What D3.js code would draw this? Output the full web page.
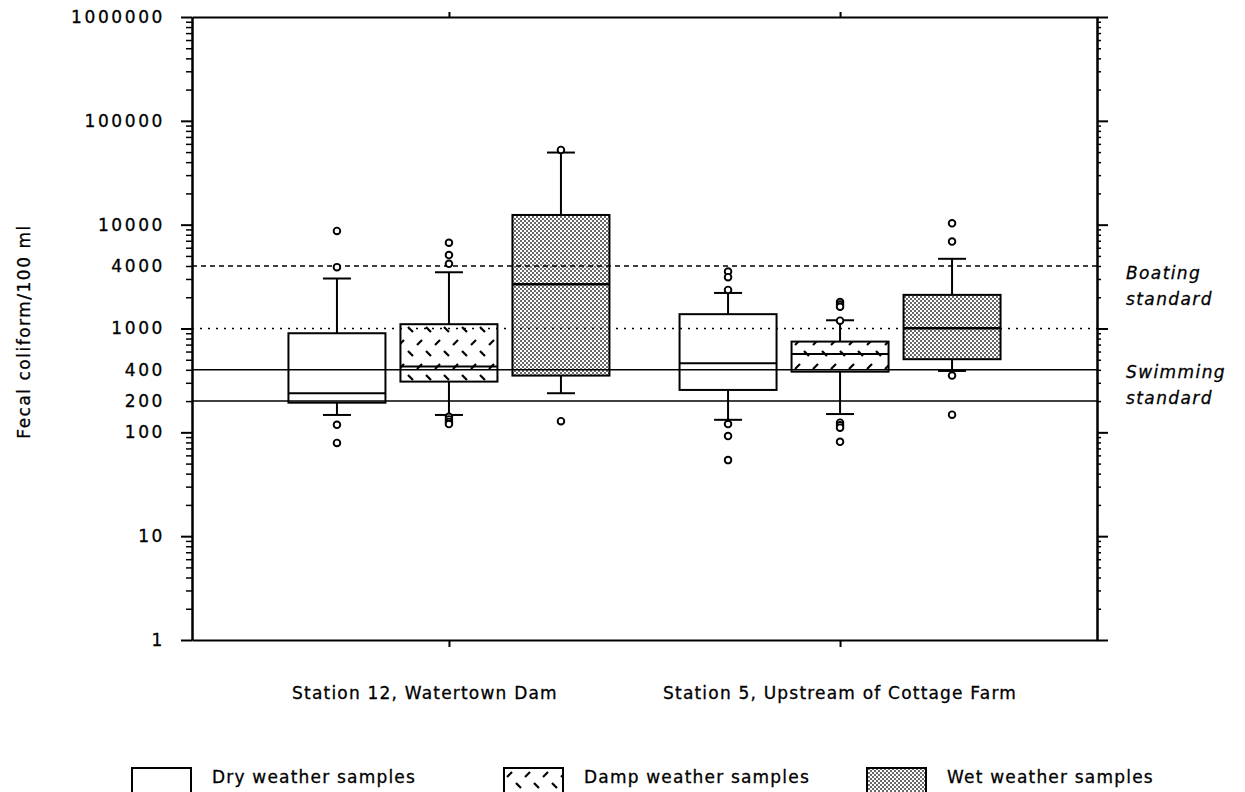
<!DOCTYPE html>
<html>
<head>
<meta charset="utf-8">
<script src="https://cdn.jsdelivr.net/npm/d3@7"></script>
<style>
body { margin: 0; background: #fff; }
text { font-family: "DejaVu Sans", "Liberation Sans", sans-serif; fill: #000; stroke: #000; stroke-width: 0.3px; }
</style>
</head>
<body>
<script>

// SVG dimensions
const outerWidth = 1245, outerHeight = 792;
const plotLeft = 192, plotRight = 1097, plotTop = 17, plotBottom = 640;

// Categories and box groups
const categories = ["Station 12, Watertown Dam", "Station 5, Upstream of Cottage Farm"];
const conditions = ["Dry", "Damp", "Wet"];
const legendLabels = ["Dry weather samples", "Damp weather samples", "Wet weather samples"];

// Box statistics, [station][condition]
const whiskerLow = [[147, 147, 238], [132, 150, 390]];
const quartile1  = [[193, 308, 352], [256, 384, 506]];
const medians    = [[238, 430, 2670], [463, 569, 1007]];
const quartile3  = [[900, 1100, 12400], [1374, 748, 2108]];
const whiskerHigh = [[3030, 3480, 49500], [2200, 1200, 4690]];
const outliers = [
    [[8700, 3900, 118, 79], [6700, 5100, 4200, 141, 133, 126, 120], [52500, 128]],
    [[3530, 3120, 2350, 120, 92, 54], [1800, 1700, 1620, 1190, 124, 117, 111, 81], [10300, 6870, 352, 148]]
];

// Axis tick labels and standards
const yTickLabels = [1, 10, 100, 200, 400, 1000, 4000, 10000, 100000, 1000000];
const yDecades = [1, 10, 100, 1000, 10000, 100000, 1000000];
const boatingLimits = [4000, 1000];
const swimmingLimits = [400, 200];
const standardLabels = [["Boating", "standard"], ["Swimming", "standard"]];
const yTitle = "Fecal coliform/100 ml";

// Create SVG
const svg = d3.select("body")
    .append("svg")
    .attr("width", outerWidth)
    .attr("height", outerHeight);

// Fill patterns
const defs = svg.append("defs");
const damp = defs.append("pattern")
    .attr("id", "damp")
    .attr("patternUnits", "userSpaceOnUse")
    .attr("width", 18).attr("height", 24);
damp.append("rect").attr("width", 18).attr("height", 24).attr("fill", "#fff");
damp.append("line").attr("x1", 3).attr("y1", 9).attr("x2", 8).attr("y2", 4)
    .attr("stroke", "#000").attr("stroke-width", 2.2);
damp.append("line").attr("x1", 12).attr("y1", 15).attr("x2", 17).attr("y2", 20)
    .attr("stroke", "#000").attr("stroke-width", 2.2);

const wet = defs.append("pattern")
    .attr("id", "wet")
    .attr("patternUnits", "userSpaceOnUse")
    .attr("width", 4).attr("height", 4);
wet.append("rect").attr("width", 4).attr("height", 4).attr("fill", "#fff");
wet.append("circle").attr("cx", 1).attr("cy", 1).attr("r", 0.9).attr("fill", "#222");
wet.append("circle").attr("cx", 3).attr("cy", 3).attr("r", 0.9).attr("fill", "#222");

const fills = { Dry: "#fff", Damp: "url(#damp)", Wet: "url(#wet)" };

// Scales
let y = d3.scaleLog()
    .domain([1, 1000000])
    .range([plotBottom, plotTop]);
let x = d3.scalePoint()
    .domain(categories)
    .range([plotLeft, plotRight])
    .padding(0.657);
let xo = d3.scalePoint()
    .domain(conditions)
    .range([-112, 112]);
const boxWidth = 97, capWidth = 28;

// Minor tick values
let minorTicks = [];
yDecades.slice(0, -1).forEach(d => {
    for (let k = 2; k <= 9; k++) minorTicks.push(k * d);
});

function styleAxis(g) {
    g.selectAll("path, line").attr("stroke", "#000").attr("stroke-width", 2);
    g.selectAll("text").remove();
}

// Left axis: minor, major, labels
svg.append("g")
    .attr("transform", `translate(${plotLeft},0)`)
    .call(d3.axisLeft(y).tickValues(minorTicks).tickSize(6).tickSizeOuter(0).tickFormat(""))
    .call(styleAxis)
    .selectAll("line").attr("stroke-width", 1.5);
svg.append("g")
    .attr("transform", `translate(${plotLeft},0)`)
    .call(d3.axisLeft(y).tickValues(yDecades).tickSize(11).tickSizeOuter(0).tickFormat(""))
    .call(styleAxis);
let yLabels = svg.append("g")
    .attr("transform", `translate(${plotLeft},0)`)
    .call(d3.axisLeft(y).tickValues(yTickLabels).tickSize(0).tickPadding(27).tickFormat(d3.format("d")));
yLabels.select(".domain").remove();
yLabels.selectAll("text")
    .attr("font-family", "DejaVu Sans")
    .attr("font-size", 17)
    .attr("letter-spacing", "2.6px")
    .attr("fill", "#000");

// Right axis
svg.append("g")
    .attr("transform", `translate(${plotRight},0)`)
    .call(d3.axisRight(y).tickValues(minorTicks).tickSize(4).tickSizeOuter(0).tickFormat(""))
    .call(styleAxis)
    .selectAll("line").attr("stroke-width", 1.5);
svg.append("g")
    .attr("transform", `translate(${plotRight},0)`)
    .call(d3.axisRight(y).tickValues(yDecades).tickSize(11).tickSizeOuter(0).tickFormat(""))
    .call(styleAxis);

// Top and bottom axes
svg.append("g")
    .attr("transform", `translate(0,${plotTop})`)
    .call(d3.axisTop(x).tickSize(5).tickSizeOuter(0).tickFormat(""))
    .call(styleAxis);
svg.append("g")
    .attr("transform", `translate(0,${plotBottom})`)
    .call(d3.axisBottom(x).tickSize(7).tickSizeOuter(0).tickFormat(""))
    .call(styleAxis);

// Category labels
svg.append("g").selectAll("text")
    .data(categories)
    .join("text")
    .attr("x", (d, i) => x(d) + (i === 0 ? -24 : 0))
    .attr("y", plotBottom + 59)
    .attr("text-anchor", "middle")
    .attr("font-size", 17)
    .attr("letter-spacing", "1.2px")
    .text(d => d);

// Y axis title
svg.append("text")
    .attr("transform", `translate(30,${(plotTop + plotBottom) / 2 + 3}) rotate(-90)`)
    .attr("text-anchor", "middle")
    .attr("font-size", 17)
    .attr("letter-spacing", "1.5px")
    .text(yTitle);

// Build boxes
let boxes = [];
categories.forEach((c, i) => {
    conditions.forEach((k, j) => {
        boxes.push({
            cat: c, cond: k,
            low: whiskerLow[i][j], q1: quartile1[i][j], med: medians[i][j],
            q3: quartile3[i][j], high: whiskerHigh[i][j], out: outliers[i][j]
        });
    });
});

let render = svg.append("g");
boxes.forEach(b => {
    const cx = x(b.cat) + xo(b.cond);
    const g = render.append("g").attr("stroke", "#000").attr("stroke-width", 2);

    // Whiskers
    g.append("line").attr("x1", cx).attr("x2", cx).attr("y1", y(b.q3)).attr("y2", y(b.high));
    g.append("line").attr("x1", cx).attr("x2", cx).attr("y1", y(b.q1)).attr("y2", y(b.low));
    g.append("line").attr("x1", cx - capWidth / 2).attr("x2", cx + capWidth / 2)
        .attr("y1", y(b.high)).attr("y2", y(b.high));
    g.append("line").attr("x1", cx - capWidth / 2).attr("x2", cx + capWidth / 2)
        .attr("y1", y(b.low)).attr("y2", y(b.low));

    // Box and median
    g.append("rect")
        .attr("x", cx - boxWidth / 2)
        .attr("y", y(b.q3))
        .attr("width", boxWidth)
        .attr("height", y(b.q1) - y(b.q3))
        .attr("fill", fills[b.cond]);
    g.append("line").attr("x1", cx - boxWidth / 2).attr("x2", cx + boxWidth / 2)
        .attr("y1", y(b.med)).attr("y2", y(b.med))
        .attr("stroke-width", b.cond === "Wet" ? 2.5 : 2);
});

// Standard lines
let limitLines = render.append("g").attr("stroke", "#000").attr("stroke-width", 1.5);
limitLines.selectAll("line.boat")
    .data(boatingLimits)
    .join("line")
    .attr("x1", plotLeft).attr("x2", plotRight)
    .attr("y1", d => y(d)).attr("y2", d => y(d))
    .attr("stroke-dasharray", (d, i) => i === 0 ? "5,4" : "2,6");
limitLines.selectAll("line.swim")
    .data(swimmingLimits)
    .join("line")
    .attr("x1", plotLeft).attr("x2", plotRight)
    .attr("y1", d => y(d)).attr("y2", d => y(d));

// Outliers
boxes.forEach(b => {
    const cx = x(b.cat) + xo(b.cond);
    render.append("g").selectAll("circle")
        .data(b.out)
        .join("circle")
        .attr("cx", cx)
        .attr("cy", d => y(d))
        .attr("r", 3.3)
        .attr("fill", "#fff")
        .attr("stroke", "#000")
        .attr("stroke-width", 1.9);
});

// Standard labels at right
const labelAnchors = [boatingLimits[0], swimmingLimits[0]];
const labelOffsets = [13, 8];
standardLabels.forEach((lines, i) => {
    lines.forEach((t, j) => {
        svg.append("text")
            .attr("x", plotRight + 29)
            .attr("y", y(labelAnchors[i]) + labelOffsets[i] + j * 26)
            .attr("font-size", 17)
            .attr("font-style", "italic")
            .attr("letter-spacing", "1.4px")
            .text(t);
    });
});

// Legend
const legendX = [132, 504, 867];
let legend = svg.append("g");
conditions.forEach((k, i) => {
    legend.append("rect")
        .attr("x", legendX[i])
        .attr("y", 768)
        .attr("width", 59)
        .attr("height", 30)
        .attr("fill", fills[k])
        .attr("stroke", "#000")
        .attr("stroke-width", 2);
    legend.append("text")
        .attr("x", legendX[i] + 80)
        .attr("y", 783)
        .attr("font-size", 17)
        .attr("letter-spacing", "1.2px")
        .text(legendLabels[i]);
});

</script>
</body>
</html>
